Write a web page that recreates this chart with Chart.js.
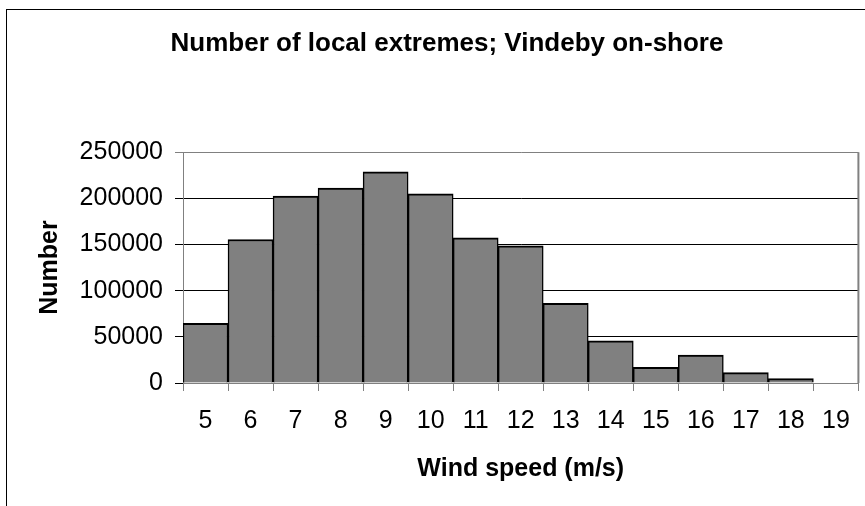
<!DOCTYPE html>
<html>
<head>
<meta charset="utf-8">
<script src="https://cdn.jsdelivr.net/npm/chart.js@4.4.1/dist/chart.umd.min.js"></script>
<style>
  html, body { margin: 0; padding: 0; background: #fff; }
  #wrap { position: relative; width: 865px; height: 506px; overflow: hidden; }
  #frame { position: absolute; left: 6px; top: 9px; width: 900px; height: 600px; border: 1px solid #000; box-sizing: border-box; }
  #myChart { position: absolute; left: 0; top: 0; }
</style>
</head>
<body>
<div id="wrap">
  <div id="frame"></div>
  <canvas id="myChart" width="865" height="506"></canvas>
</div>
<script>
// wind speed bins (m/s)
const windSpeeds = ['5', '6', '7', '8', '9', '10', '11', '12', '13', '14', '15', '16', '17', '18', '19'];
// number of local extremes per bin
const extremeCounts = [64700, 155400, 202500, 211200, 228800, 205000, 157200, 148600, 86300, 45700, 16900, 30200, 11200, 4700, null];
const yTicks = [0, 50000, 100000, 150000, 200000, 250000];

const ctx = document.getElementById('myChart');

// gray border on the right side of the plot area (Excel style)
const plotBorder = {
    id: 'plotBorder',
    afterDraw(chart) {
        const a = chart.chartArea;
        const c = chart.ctx;
        c.save();
        c.strokeStyle = '#808080';
        c.lineWidth = 2;
        c.beginPath();
        c.moveTo(a.right, a.top);
        c.lineTo(a.right, a.bottom);
        c.stroke();
        c.restore();
    }
};

new Chart(ctx, {
    type: 'bar',
    data: {
        labels: windSpeeds,
        datasets: [{
            label: 'Number',
            data: extremeCounts,
            backgroundColor: '#808080',
            borderColor: '#000000',
            borderWidth: {top: 2, left: 1.5, right: 1.5, bottom: 0},
            borderSkipped: false,
            barPercentage: 1,
            categoryPercentage: 1,
        }]
    },
    options: {
        responsive: false,
        animation: false,
        devicePixelRatio: 1,
        layout: {
            padding: {left: 35, right: 6, top: 0, bottom: 0}
        },
        plugins: {
            legend: { display: false },
            tooltip: { enabled: false },
            title: {
                display: true,
                text: 'Number of local extremes; Vindeby on-shore',
                color: '#000',
                font: {family: 'Liberation Sans, Arial, sans-serif', size: 26, weight: 'bold'},
                padding: {top: 28, bottom: 93}
            }
        },
        scales: {
            x: {
                offset: true,
                grid: {
                    offset: true,
                    drawOnChartArea: false,
                    drawTicks: true,
                    tickLength: 8,
                    color: '#808080'
                },
                border: { color: '#808080', width: 1 },
                ticks: {
                    color: '#000',
                    font: {family: 'Liberation Sans, Arial, sans-serif', size: 25},
                    padding: 15,
                    maxRotation: 0,
                    autoSkip: false
                },
                title: {
                    display: true,
                    text: 'Wind speed (m/s)',
                    color: '#000',
                    font: {family: 'Liberation Sans, Arial, sans-serif', size: 25, weight: 'bold'},
                    padding: {top: 0, bottom: 22}
                },
                afterFit(scale) { scale.height = 123; }
            },
            y: {
                min: 0,
                max: 250000,
                afterBuildTicks(scale) {
                    scale.ticks = yTicks.map(v => ({value: v}));
                },
                grid: {
                    color: c => c.tick && c.tick.value === 250000 ? '#808080' : '#000000',
                    tickColor: c => c.tick && c.tick.value === 250000 ? '#808080' : '#000000',
                    tickLength: 8,
                    lineWidth: 1
                },
                border: { color: '#808080', width: 1 },
                ticks: {
                    color: '#000',
                    font: {family: 'Liberation Sans, Arial, sans-serif', size: 25},
                    padding: 12,
                    callback: v => String(v)
                },
                title: {
                    display: true,
                    text: 'Number',
                    color: '#000',
                    font: {family: 'Liberation Sans, Arial, sans-serif', size: 25, weight: 'bold'},
                    padding: {top: 0, bottom: 0}
                },
                afterFit(scale) { scale.width = 148; }
            }
        }
    },
    plugins: [plotBorder]
});
</script>
</body>
</html>
